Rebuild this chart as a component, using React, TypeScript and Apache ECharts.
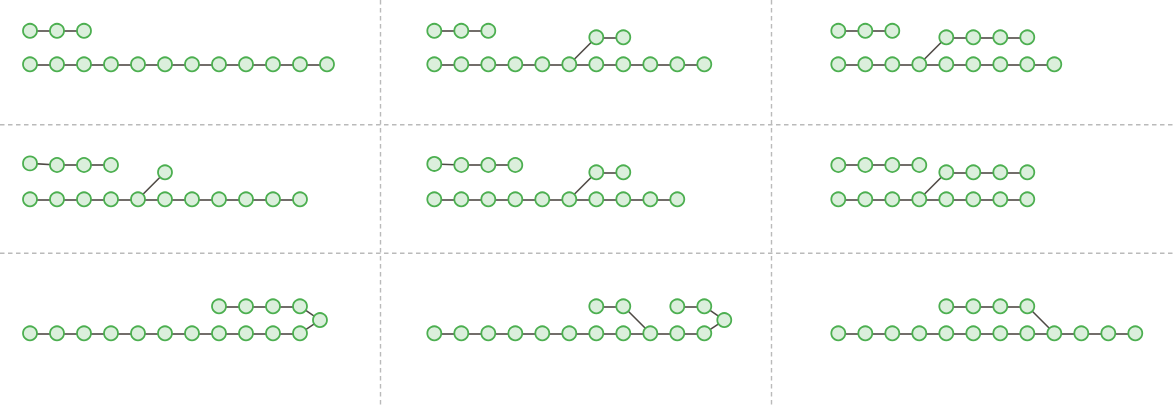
import React, { useEffect, useRef } from "react";
import * as echarts from "echarts";

// Each panel: chains of nodes given as [column, level] (level 0 = main line)
// joins: [fromChain, fromNode, toChain, toNode]
const panel1Chains = [
  [[0, 1.24], [1, 1.24], [2, 1.24]],
  [[0, 0], [1, 0], [2, 0], [3, 0], [4, 0], [5, 0], [6, 0], [7, 0], [8, 0], [9, 0], [10, 0], [11, 0]],
];
const panel1Joins: number[][] = [];

const panel2Chains = [
  [[0, 1.24], [1, 1.24], [2, 1.24]],
  [[0, 0], [1, 0], [2, 0], [3, 0], [4, 0], [5, 0], [6, 0], [7, 0], [8, 0], [9, 0], [10, 0]],
  [[6, 1], [7, 1]],
];
const panel2Joins = [[1, 5, 2, 0]];

const panel3Chains = [
  [[0, 1.24], [1, 1.24], [2, 1.24]],
  [[0, 0], [1, 0], [2, 0], [3, 0], [4, 0], [5, 0], [6, 0], [7, 0], [8, 0]],
  [[4, 1], [5, 1], [6, 1], [7, 1]],
];
const panel3Joins = [[1, 3, 2, 0]];

const panel4Chains = [
  [[0, 1.33], [1, 1.27], [2, 1.27], [3, 1.27]],
  [[0, 0], [1, 0], [2, 0], [3, 0], [4, 0], [5, 0], [6, 0], [7, 0], [8, 0], [9, 0], [10, 0]],
  [[5, 1]],
];
const panel4Joins = [[1, 4, 2, 0]];

const panel5Chains = [
  [[0, 1.31], [1, 1.27], [2, 1.27], [3, 1.27]],
  [[0, 0], [1, 0], [2, 0], [3, 0], [4, 0], [5, 0], [6, 0], [7, 0], [8, 0], [9, 0]],
  [[6, 1], [7, 1]],
];
const panel5Joins = [[1, 5, 2, 0]];

const panel6Chains = [
  [[0, 1.27], [1, 1.27], [2, 1.27], [3, 1.27]],
  [[0, 0], [1, 0], [2, 0], [3, 0], [4, 0], [5, 0], [6, 0], [7, 0]],
  [[4, 1], [5, 1], [6, 1], [7, 1]],
];
const panel6Joins = [[1, 3, 2, 0]];

const panel7Chains = [
  [[0, 0], [1, 0], [2, 0], [3, 0], [4, 0], [5, 0], [6, 0], [7, 0], [8, 0], [9, 0], [10, 0]],
  [[7, 1], [8, 1], [9, 1], [10, 1], [10.74, 0.49]],
];
const panel7Joins = [[1, 4, 0, 10]];

const panel8Chains = [
  [[0, 0], [1, 0], [2, 0], [3, 0], [4, 0], [5, 0], [6, 0], [7, 0], [8, 0], [9, 0], [10, 0]],
  [[6, 1], [7, 1]],
  [[9, 1], [10, 1], [10.74, 0.49]],
];
const panel8Joins = [[1, 1, 0, 8], [2, 2, 0, 10]];

const panel9Chains = [
  [[0, 0], [1, 0], [2, 0], [3, 0], [4, 0], [5, 0], [6, 0], [7, 0], [8, 0], [9, 0], [10, 0], [11, 0]],
  [[4, 1], [5, 1], [6, 1], [7, 1]],
];
const panel9Joins = [[1, 3, 0, 8]];

const panels = [
  { chains: panel1Chains, joins: panel1Joins },
  { chains: panel2Chains, joins: panel2Joins },
  { chains: panel3Chains, joins: panel3Joins },
  { chains: panel4Chains, joins: panel4Joins },
  { chains: panel5Chains, joins: panel5Joins },
  { chains: panel6Chains, joins: panel6Joins },
  { chains: panel7Chains, joins: panel7Joins },
  { chains: panel8Chains, joins: panel8Joins },
  { chains: panel9Chains, joins: panel9Joins },
];

// layout
const COL_STARTS = [30, 434.3, 838.3];
const ROW_MAINS = [64.3, 199.3, 333.3];
const STEP = 27;
const X_MAX = 12;
const Y_MAX = 2;

function buildPanel(chains: number[][][], joins: number[][]) {
  const data: any[] = [];
  const links: any[] = [];
  const offsets: number[] = [];
  chains.forEach((chain) => {
    offsets.push(data.length);
    chain.forEach((n, i) => {
      data.push({ value: [n[0], n[1]] });
      if (i > 0) links.push({ source: data.length - 2, target: data.length - 1 });
    });
  });
  joins.forEach(([c1, n1, c2, n2]) => {
    links.push({ source: offsets[c1] + n1, target: offsets[c2] + n2 });
  });
  return { data, links };
}

export default function App() {
  const ref = useRef<HTMLDivElement>(null);
  useEffect(() => {
    document.body.style.margin = "0";
    if (!ref.current) return;
    const chart = echarts.init(ref.current, undefined, { renderer: "svg" });
    const grids: any[] = [];
    const xAxes: any[] = [];
    const yAxes: any[] = [];
    const series: any[] = [];
    panels.forEach((p, idx) => {
      const r = Math.floor(idx / 3);
      const c = idx % 3;
      grids.push({
        left: COL_STARTS[c],
        top: ROW_MAINS[r] - Y_MAX * STEP,
        width: X_MAX * STEP,
        height: Y_MAX * STEP,
        show: false,
      });
      xAxes.push({ type: "value", gridIndex: idx, min: 0, max: X_MAX, show: false });
      yAxes.push({ type: "value", gridIndex: idx, min: 0, max: Y_MAX, show: false });
      const { data, links } = buildPanel(p.chains, p.joins);
      series.push({
        type: "graph",
        layout: "none",
        coordinateSystem: "cartesian2d",
        xAxisIndex: idx,
        yAxisIndex: idx,
        symbol: "circle",
        symbolSize: 14,
        itemStyle: { color: "#dbefdc", borderColor: "#4caf50", borderWidth: 1.8 },
        lineStyle: { color: "#4f4a45", width: 1.6, opacity: 1, curveness: 0 },
        label: { show: false },
        emphasis: { disabled: true },
        data,
        links,
      });
    });
    const dash = { stroke: "#bababa", lineWidth: 1.4, lineDash: [4.5, 3.5] };
    chart.setOption({
      animation: false,
      grid: grids,
      xAxis: xAxes,
      yAxis: yAxes,
      series,
      graphic: [
        { type: "line", shape: { x1: 380.5, y1: 0, x2: 380.5, y2: 408 }, style: dash, silent: true },
        { type: "line", shape: { x1: 771.5, y1: 0, x2: 771.5, y2: 408 }, style: dash, silent: true },
        { type: "line", shape: { x1: 0, y1: 124.8, x2: 1173, y2: 124.8 }, style: dash, silent: true },
        { type: "line", shape: { x1: 0, y1: 253.3, x2: 1173, y2: 253.3 }, style: dash, silent: true },
      ],
    });
    return () => chart.dispose();
  }, []);
  return <div ref={ref} style={{ width: 1173, height: 408 }} />;
}
